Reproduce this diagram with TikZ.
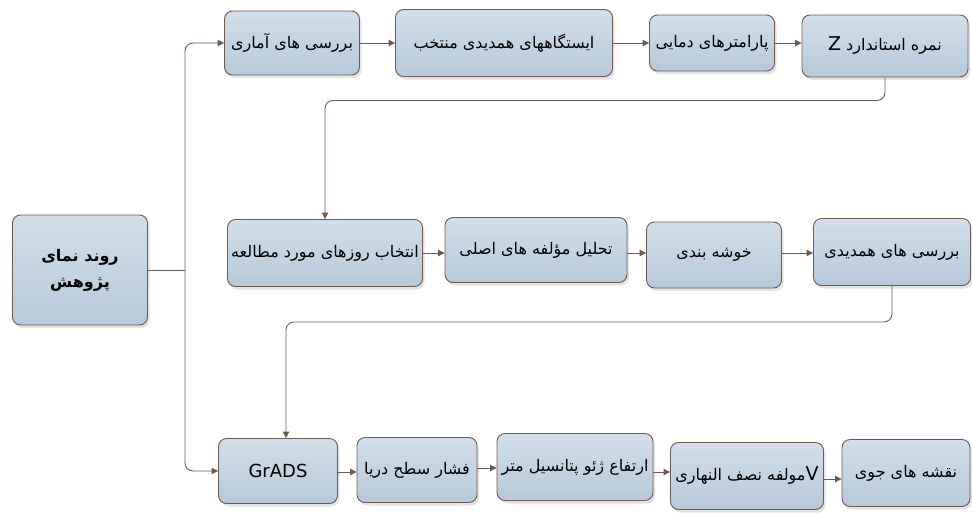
\documentclass[tikz,border=0pt]{standalone}
\usepackage{fontspec}
\setmainfont{DejaVu Sans}
\newfontfamily\arabicfont[Script=Arabic]{DejaVu Sans}
\TeXXeTstate=1
\usetikzlibrary{arrows.meta, positioning, shadows, calc}
\definecolor{linec}{RGB}{110,90,85}
\definecolor{boxtop}{RGB}{210,222,233}
\definecolor{boxbot}{RGB}{183,201,218}
\newcommand{\fa}[1]{{\arabicfont\beginR #1\endR}}
\tikzset{
  stagebox/.style={draw=linec, line width=0.9pt, rounded corners=8pt,
    top color=boxtop, bottom color=boxbot, inner sep=2pt,
    drop shadow={shadow xshift=2pt, shadow yshift=-3pt, fill=black!22},
    font=\fontsize{16}{19}\selectfont},
  link/.style={draw=linec, line width=0.9pt, -{Triangle[width=6.5pt,length=6.5pt]}},
}

\begin{document}
\begin{tikzpicture}[x=1pt, y=-1pt]
\useasboundingbox (0,0) rectangle (972,512);
% main box
\node[stagebox, minimum width=135pt, minimum height=110pt, align=center,
  font=\fontsize{16}{26}\selectfont\bfseries] (main) at (80,270)
  {\fa{روند نمای}\\\fa{پژوهش}};
% first row
\node[stagebox, minimum width=135pt, minimum height=64pt] (amari) at (292,43) {\fa{بررسی های آماری}};
\node[stagebox, minimum width=217pt, minimum height=67pt] (istgah) at (504,43) {\fa{ایستگاههای همدیدی منتخب}};
\node[stagebox, minimum width=125pt, minimum height=56pt] (damayi) at (712,43) {\fa{پارامترهای دمایی}};
\node[stagebox, minimum width=166pt, minimum height=62pt] (zscore) at (885,46) {\fa{نمره استاندارد \beginL{\fontsize{19}{19}\selectfont Z}\endL}};
% second row
\node[stagebox, minimum width=195pt, minimum height=67pt] (ruzha) at (325,253) {\fa{انتخاب روزهای مورد مطالعه}};
\node[stagebox, minimum width=182pt, minimum height=65pt] (pca) at (536,250) {\fa{تحلیل مؤلفه های اصلی}};
\node[stagebox, minimum width=135pt, minimum height=66pt] (khushe) at (714,255) {\fa{خوشه بندی}};
\node[stagebox, minimum width=157pt, minimum height=67pt] (hamdidi) at (892,252) {\fa{بررسی های همدیدی}};
% third row
\node[stagebox, minimum width=119pt, minimum height=65pt, font=\fontsize{18}{20}\selectfont] (grads) at (278,471) {GrADS};
\node[stagebox, minimum width=120pt, minimum height=65pt] (feshar) at (417,470) {\fa{فشار سطح دریا}};
\node[stagebox, minimum width=156pt, minimum height=67pt] (geopot) at (575,467) {\fa{ارتفاع ژئو پتانسیل متر}};
\node[stagebox, minimum width=153pt, minimum height=67pt] (vcomp) at (747,476) {\fa{\beginL{\fontsize{19}{19}\selectfont V}\endL مولفه نصف النهاری}};
\node[stagebox, minimum width=128pt, minimum height=67pt] (naghshe) at (906,473) {\fa{نقشه های جوی}};

\coordinate (split) at (185,270);
\draw[linec, line width=0.9pt] (main.east) -- (split);
\draw[link, rounded corners=8pt] (split) |- (amari.west);
\draw[link, rounded corners=8pt] (split) |- (grads.west);

\draw[link] (amari.east) -- (istgah.west |- amari.east);
\draw[link] (istgah.east) -- (damayi.west |- istgah.east);
\draw[link] (damayi.east) -- (zscore.west |- damayi.east);
\draw[link, rounded corners=8pt] (zscore.south) -- ++(0,23) -| (ruzha.north);

\draw[link] (ruzha.east) -- (pca.west |- ruzha.east);
\draw[link] (pca.east |- ruzha.east) -- (khushe.west |- ruzha.east);
\draw[link] (khushe.east |- ruzha.east) -- (hamdidi.west |- ruzha.east);
\draw[link, rounded corners=8pt] (hamdidi.south) -- ++(0,36) -| ($(grads.north)+(8,0)$);

\draw[link] (grads.east |- 0,472) -- (feshar.west |- 0,472);
\draw[link] (feshar.east |- 0,468) -- (geopot.west |- 0,468);
\draw[link] (geopot.east |- 0,472) -- (vcomp.west |- 0,472);
\draw[link] (vcomp.east |- 0,479) -- (naghshe.west |- 0,479);
\end{tikzpicture}
\end{document}
